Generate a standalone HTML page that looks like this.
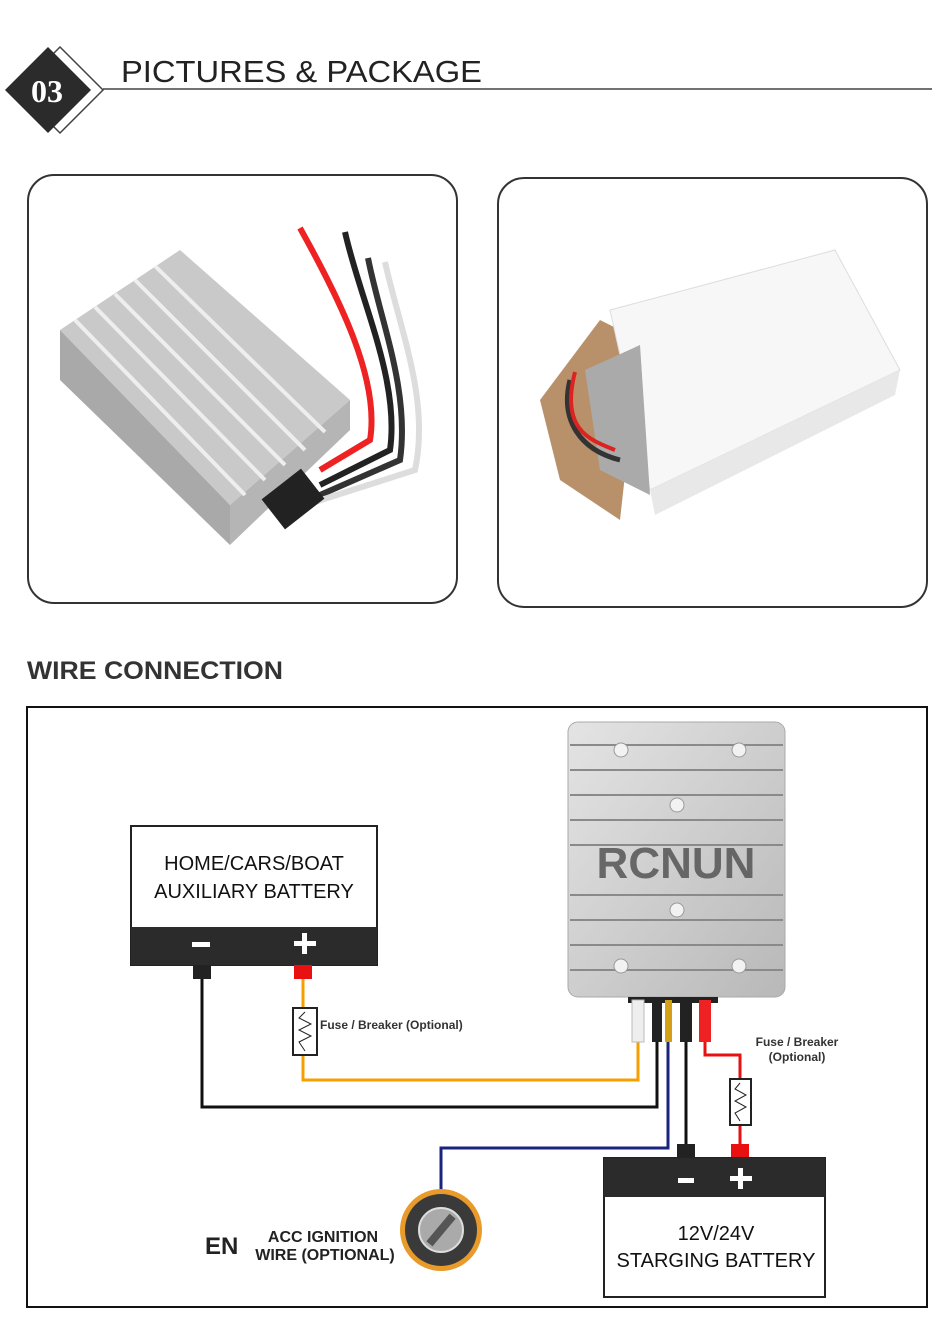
<!DOCTYPE html>
<html><head><meta charset="utf-8"><style>
html,body{margin:0;padding:0;background:#fff}
svg{display:block}
text{font-family:"Liberation Sans",sans-serif}
</style></head><body>
<svg width="950" height="1334" viewBox="0 0 950 1334" xmlns="http://www.w3.org/2000/svg">
<defs>
<linearGradient id="al" x1="0" y1="0" x2="1" y2="1"><stop offset="0" stop-color="#e4e4e4"/><stop offset="1" stop-color="#b8b8b8"/></linearGradient>
</defs>
<!-- header -->
<polygon points="60,47 103,90 60,133 17,90" fill="#fff" stroke="#444" stroke-width="1.5"/>
<polygon points="48,47 91,90 48,133 5,90" fill="#2b2b2b"/>
<text x="47" y="102" font-size="32" font-weight="bold" fill="#fff" text-anchor="middle" style="font-family:'Liberation Serif',serif">03</text>
<line x1="103" y1="89" x2="932" y2="89" stroke="#444" stroke-width="1.5"/>
<text x="121" y="82" font-size="31" fill="#222" textLength="361" lengthAdjust="spacingAndGlyphs">PICTURES &amp; PACKAGE</text>
<!-- photo boxes -->
<rect x="28" y="175" width="429" height="428" rx="26" fill="#fff" stroke="#333" stroke-width="2"/>
<rect x="498" y="178" width="429" height="429" rx="26" fill="#fff" stroke="#333" stroke-width="2"/>
<!-- product photo 1 -->
<path d="M300,228 C340,300 380,380 370,440 L320,470" stroke="#e22" stroke-width="6" fill="none"/>
<path d="M345,232 C360,300 400,380 390,450 L320,485" stroke="#222" stroke-width="6" fill="none"/>
<path d="M368,258 C380,320 410,390 400,460 L320,495" stroke="#333" stroke-width="6" fill="none"/>
<path d="M385,262 C400,330 430,400 415,470 L290,510" stroke="#ddd" stroke-width="6" fill="none"/>
<polygon points="60,330 180,250 350,400 230,505" fill="#c9c9c9"/>
<polygon points="60,330 230,505 230,545 60,380" fill="#a9a9a9"/>
<polygon points="230,505 350,400 350,430 230,545" fill="#b5b5b5"/>
<g stroke="#eee" stroke-width="4">
<line x1="75" y1="320" x2="245" y2="495"/><line x1="95" y1="307" x2="265" y2="480"/><line x1="115" y1="294" x2="285" y2="465"/><line x1="135" y1="280" x2="305" y2="450"/><line x1="155" y1="266" x2="325" y2="432"/>
</g>
<rect x="268" y="480" width="50" height="38" fill="#222" transform="rotate(-38 293 499)"/>
<!-- product photo 2 -->
<polygon points="540,400 600,320 640,340 620,520 560,480" fill="#b8916b"/>
<polygon points="610,310 835,250 900,370 650,490" fill="#f7f7f7" stroke="#ddd"/>
<polygon points="650,490 900,370 895,395 655,515" fill="#e8e8e8"/>
<polygon points="585,370 640,345 650,495 600,470" fill="#aaa"/>
<path d="M570,380 C560,420 580,450 620,460" stroke="#333" stroke-width="5" fill="none"/>
<path d="M575,372 C560,430 590,440 615,450" stroke="#d22" stroke-width="4" fill="none"/>
<!-- wire connection -->
<text x="27" y="679" font-size="25" font-weight="bold" fill="#333" textLength="256" lengthAdjust="spacingAndGlyphs">WIRE CONNECTION</text>
<rect x="27" y="707" width="900" height="600" fill="#fff" stroke="#111" stroke-width="2"/>
<!-- converter -->
<rect x="568" y="722" width="217" height="275" rx="10" fill="url(#al)" stroke="#aaa"/>
<g stroke="#8a8a8a" stroke-width="2">
<line x1="570" y1="745" x2="783" y2="745"/><line x1="570" y1="770" x2="783" y2="770"/><line x1="570" y1="795" x2="783" y2="795"/><line x1="570" y1="820" x2="783" y2="820"/><line x1="570" y1="845" x2="783" y2="845"/><line x1="570" y1="895" x2="783" y2="895"/><line x1="570" y1="920" x2="783" y2="920"/><line x1="570" y1="945" x2="783" y2="945"/><line x1="570" y1="970" x2="783" y2="970"/>
</g>
<g fill="#f2f2f2" stroke="#999"><circle cx="621" cy="750" r="7"/><circle cx="739" cy="750" r="7"/><circle cx="677" cy="805" r="7"/><circle cx="677" cy="910" r="7"/><circle cx="621" cy="966" r="7"/><circle cx="739" cy="966" r="7"/></g>
<text x="676" y="878" font-size="44" font-weight="bold" fill="#555" text-anchor="middle" opacity="0.85">RCNUN</text>
<rect x="628" y="997" width="90" height="6" fill="#222"/>
<!-- wires -->
<g fill="none" stroke-width="3">
<polyline points="303,978 303,1080 638,1080 638,1040" stroke="#f5a000"/>
<polyline points="202,978 202,1107 657,1107 657,1040" stroke="#111"/>
<polyline points="668,1040 668,1148 441,1148 441,1200" stroke="#1a237e"/>
<polyline points="686,1040 686,1150" stroke="#111"/>
<polyline points="705,1040 705,1055 740,1055 740,1150" stroke="#e81010"/>
</g>
<rect x="632" y="1000" width="12" height="42" fill="#eee" stroke="#bbb"/>
<rect x="652" y="1000" width="10" height="42" fill="#222"/>
<rect x="665" y="1000" width="7" height="42" fill="#d4a017"/>
<rect x="680" y="1000" width="12" height="42" fill="#222"/>
<rect x="699" y="1000" width="12" height="42" fill="#e22"/>
<!-- fuses -->
<rect x="293" y="1008" width="24" height="47" fill="#fff" stroke="#222" stroke-width="2"/>
<polyline points="305,1012 299,1018 311,1024 299,1030 311,1036 299,1042 305,1051" fill="none" stroke="#222"/>
<text x="320" y="1029" font-size="12" font-weight="bold" fill="#333">Fuse / Breaker (Optional)</text>
<rect x="730" y="1079" width="21" height="46" fill="#fff" stroke="#222" stroke-width="2"/>
<polyline points="740,1083 735,1089 746,1095 735,1101 746,1107 735,1113 740,1121" fill="none" stroke="#222"/>
<text x="797" y="1046" font-size="12" font-weight="bold" fill="#333" text-anchor="middle">Fuse / Breaker</text>
<text x="797" y="1061" font-size="12" font-weight="bold" fill="#333" text-anchor="middle">(Optional)</text>
<!-- left battery -->
<rect x="131" y="826" width="246" height="139" fill="#fff" stroke="#222" stroke-width="2"/>
<rect x="131" y="927" width="246" height="38" fill="#2b2b2b"/>
<text x="254" y="870" font-size="20" fill="#111" text-anchor="middle">HOME/CARS/BOAT</text>
<text x="254" y="898" font-size="20" fill="#111" text-anchor="middle">AUXILIARY BATTERY</text>
<rect x="192" y="942" width="18" height="5" fill="#fff"/>
<rect x="294" y="941" width="22" height="5" fill="#fff"/><rect x="302" y="933" width="5" height="21" fill="#fff"/>
<rect x="193" y="965" width="18" height="14" fill="#222"/>
<rect x="294" y="965" width="18" height="14" fill="#e81010"/>
<!-- right battery -->
<rect x="677" y="1144" width="18" height="16" fill="#222"/>
<rect x="731" y="1144" width="18" height="16" fill="#e81010"/>
<rect x="604" y="1158" width="221" height="139" fill="#fff" stroke="#222" stroke-width="2"/>
<rect x="604" y="1158" width="221" height="39" fill="#2b2b2b"/>
<rect x="678" y="1178" width="16" height="5" fill="#fff"/>
<rect x="730" y="1176" width="22" height="5" fill="#fff"/><rect x="738" y="1168" width="5" height="21" fill="#fff"/>
<text x="716" y="1240" font-size="20" fill="#111" text-anchor="middle">12V/24V</text>
<text x="716" y="1267" font-size="20" fill="#111" text-anchor="middle">STARGING BATTERY</text>
<!-- key -->
<circle cx="441" cy="1230" r="41" fill="#e89a2a"/>
<circle cx="441" cy="1230" r="36" fill="#3a3a3a"/>
<circle cx="441" cy="1230" r="22" fill="#aaa" stroke="#ddd" stroke-width="2"/>
<rect x="437" y="1212" width="8" height="36" fill="#555" transform="rotate(40 441 1230)"/>
<text x="205" y="1254" font-size="24" font-weight="bold" fill="#222">EN</text>
<text x="323" y="1242" font-size="16" font-weight="bold" fill="#222" text-anchor="middle">ACC IGNITION</text>
<text x="325" y="1260" font-size="16" font-weight="bold" fill="#222" text-anchor="middle">WIRE (OPTIONAL)</text>
</svg>
</body></html>
